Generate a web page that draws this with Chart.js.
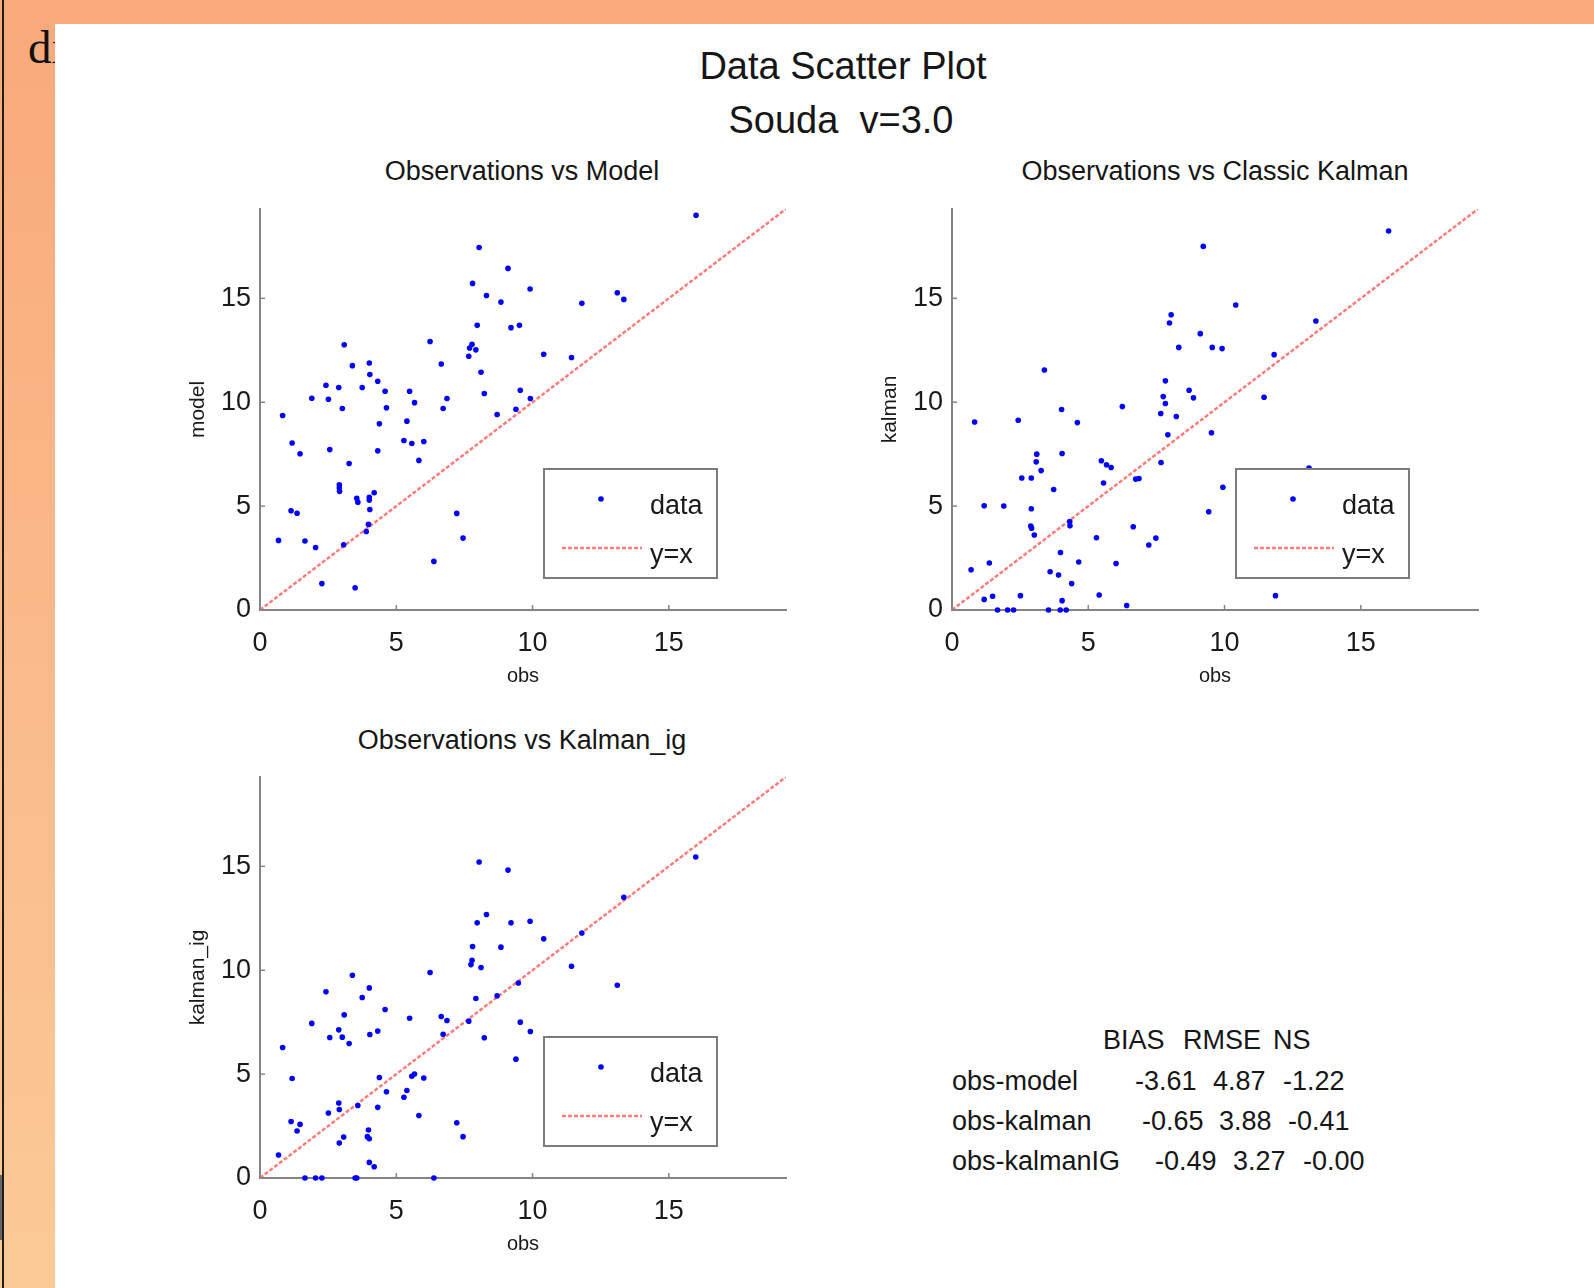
<!DOCTYPE html>
<html lang="en">
<head>
<meta charset="UTF-8">
<title>Data Scatter Plot - Souda v=3.0</title>
<style>
  html, body { margin: 0; padding: 0; }
  body { width: 1594px; height: 1288px; position: relative; overflow: hidden;
         background: linear-gradient(to bottom, #f9a97c 0%, #fbbd8c 60%, #fbca97 100%); }
  .edge { position: absolute; left: 2px; top: 0; width: 2px; height: 1288px; background: #1e1e1e; }
  .edge2 { position: absolute; left: 0; top: 1175px; width: 2px; height: 65px; background: #666; }
  .under { position: absolute; left: 28px; top: 24px; font: 47px/1 "Liberation Serif", "Times New Roman", serif; color: #111; }
  #panel { position: absolute; left: 55px; top: 24px; right: 0; bottom: 0; background: #fff; }
  .t { position: absolute; font-family: "Liberation Sans", Arial, sans-serif; line-height: 1; white-space: pre; color: #161616; }
  .c { transform: translateX(-50%); }
  canvas { position: absolute; }
</style>
</head>
<body>
<div class="edge"></div>
<div class="edge2"></div>
<div class="under">di</div>
<div id="panel"></div>

<div class="t c" style="left:843px; top:47px; font-size:38px;">Data Scatter Plot</div>
<div class="t c" style="left:841px; top:101px; font-size:38px;">Souda  v=3.0</div>

<div class="t c" style="left:522px; top:158px; font-size:27px;">Observations vs Model</div>
<div class="t c" style="left:1215px; top:158px; font-size:27px;">Observations vs Classic Kalman</div>
<div class="t c" style="left:522px; top:727px; font-size:27px;">Observations vs Kalman_ig</div>

<div id="stats"></div>

<canvas id="c1" width="620" height="489" style="left:186px; top:199px;"></canvas>
<canvas id="c2" width="620" height="489" style="left:878px; top:199px;"></canvas>
<canvas id="c3" width="620" height="489" style="left:186px; top:767px;"></canvas>

<script src="https://cdn.jsdelivr.net/npm/chart.js"></script>
<script>
  // axis range shared by all three panels (xlim = ylim)
  const axisMax = 19.3;
  const tickStep = 5;

  // [obs, model]
  const modelPts = [[16.0,19.0],[8.04,17.45],[9.10,16.44],[7.80,15.72],[9.91,15.45],[8.31,15.14],[8.84,14.82],
    [13.11,15.27],[13.35,14.95],[11.81,14.76],[7.97,13.70],[9.21,13.59],[9.52,13.70],[6.24,12.92],[3.09,12.77],
    [7.78,12.79],[7.69,12.61],[7.92,12.52],[7.66,12.21],[10.41,12.31],[11.43,12.15],[6.65,11.84],[4.01,11.89],
    [3.39,11.76],[8.11,11.44],[4.03,11.33],[4.32,11.01],[2.42,10.82],[2.89,10.71],[3.75,10.71],[4.59,10.53],
    [5.49,10.53],[9.55,10.58],[1.90,10.19],[2.51,10.14],[5.67,9.98],[6.86,10.18],[8.23,10.42],[9.92,10.18],
    [3.02,9.70],[4.64,9.73],[6.72,9.70],[9.39,9.66],[0.83,9.36],[5.39,9.09],[4.38,8.96],[8.70,9.41],[5.28,8.16],
    [5.57,8.01],[6.01,8.11],[1.18,8.04],[1.47,7.52],[2.56,7.72],[4.32,7.66],[5.83,7.20],[3.27,7.05],[2.91,6.03],
    [2.91,5.87],[2.92,5.71],[3.55,5.38],[3.59,5.19],[4.01,5.43],[4.01,5.29],[4.19,5.64],[4.03,4.84],[1.14,4.78],
    [1.36,4.66],[7.22,4.65],[3.98,4.12],[3.90,3.78],[0.68,3.35],[1.65,3.32],[2.04,3.01],[3.07,3.14],[7.45,3.46],
    [6.38,2.34],[2.27,1.27],[3.49,1.07]];

  // [obs, classic kalman]
  const kalmanPts = [[16.02,18.24],[9.22,17.50],[10.41,14.68],[8.04,14.21],[7.98,13.81],[13.35,13.91],[9.11,13.30],
    [8.32,12.64],[9.55,12.64],[9.91,12.58],[11.82,12.29],[3.39,11.55],[7.83,11.03],[8.70,10.58],[8.86,10.21],
    [7.75,10.27],[7.83,9.94],[11.45,10.24],[6.25,9.79],[4.02,9.65],[7.66,9.46],[8.23,9.31],[0.83,9.05],[2.43,9.13],
    [4.60,9.02],[7.92,8.43],[9.52,8.53],[3.11,7.50],[4.04,7.53],[3.09,7.13],[3.27,6.71],[5.48,7.18],[5.67,6.99],
    [5.84,6.86],[7.67,7.10],[13.10,6.83],[2.56,6.35],[2.91,6.35],[6.74,6.30],[6.86,6.33],[5.56,6.11],[3.73,5.80],
    [9.94,5.91],[1.18,5.02],[1.90,5.00],[2.91,4.87],[9.42,4.73],[4.32,4.26],[2.89,4.04],[2.92,3.94],[4.33,4.05],
    [6.65,4.01],[3.02,3.61],[5.30,3.48],[7.48,3.46],[7.22,3.13],[3.98,2.77],[0.70,1.94],[1.37,2.26],[4.65,2.31],
    [6.02,2.24],[3.60,1.84],[3.91,1.68],[4.39,1.27],[1.18,0.51],[1.49,0.66],[2.51,0.69],[5.40,0.72],[4.04,0.45],
    [6.41,0.22],[11.87,0.69],[1.67,0],[2.04,0],[2.26,0],[3.54,0],[3.97,0],[4.19,0]];

  // [obs, kalman_ig]
  const kalmanIgPts = [[15.99,15.45],[8.04,15.21],[9.10,14.82],[13.35,13.51],[8.31,12.68],[7.97,12.28],[9.21,12.28],
    [9.91,12.36],[11.81,11.79],[10.41,11.51],[7.80,11.14],[8.84,11.11],[7.78,10.48],[7.74,10.27],[8.11,10.13],
    [11.43,10.19],[6.24,9.89],[3.39,9.76],[4.01,9.15],[2.42,8.96],[3.75,8.69],[9.48,9.38],[13.11,9.28],[7.92,8.64],
    [8.70,8.77],[4.59,8.11],[3.09,7.85],[1.90,7.44],[5.49,7.69],[6.65,7.77],[6.86,7.58],[7.66,7.55],[9.55,7.50],
    [2.89,7.13],[4.32,7.07],[2.56,6.76],[3.02,6.78],[4.03,6.91],[3.27,6.47],[6.72,6.92],[9.92,7.05],[8.23,6.75],
    [0.83,6.28],[9.39,5.72],[1.18,4.79],[4.38,4.84],[5.57,4.90],[5.67,5.00],[6.01,4.81],[4.64,4.15],[5.39,4.21],
    [5.28,3.89],[2.89,3.61],[2.91,3.30],[3.59,3.49],[2.51,3.13],[4.32,3.40],[5.83,3.01],[1.14,2.72],[1.47,2.58],
    [1.36,2.26],[7.22,2.66],[7.45,1.99],[3.98,2.31],[3.94,1.99],[4.01,1.89],[3.07,1.97],[2.91,1.68],[0.68,1.11],
    [4.01,0.75],[4.19,0.54],[1.65,0],[2.04,0],[2.27,0],[3.49,0],[3.55,0],[6.38,0]];

  // error table
  const statHead = ['BIAS', 'RMSE', 'NS'];
  const statNames = ['obs-model', 'obs-kalman', 'obs-kalmanIG'];
  const statBias = ['-3.61', '-0.65', '-0.49'];
  const statRmse = ['4.87', '3.88', '3.27'];
  const statNs = ['-1.22', '-0.41', '-0.00'];

  const FONT = '"Liberation Sans", Arial, sans-serif';
  const AXIS = '#858585';
  const INK = '#1a1a1a';

  // table layout (MATLAB padded the rows with spaces, so columns drift a little)
  const headX = [1103, 1183, 1273];
  const rowX = [[952, 1135, 1213, 1283], [952, 1142, 1219, 1288], [952, 1155, 1233, 1303]];
  const stats = document.getElementById('stats');
  function put(txt, left, baseline) {
    const d = document.createElement('div');
    d.className = 't';
    d.style.fontSize = '27px';
    d.style.left = left + 'px';
    d.style.top = (baseline - 23) + 'px';
    d.textContent = txt;
    stats.appendChild(d);
  }
  statHead.forEach((h, i) => put(h, headX[i], 1050));
  statNames.forEach((n, r) => {
    const base = 1091 + r * 40;
    [n, statBias[r], statRmse[r], statNs[r]].forEach((s, i) => put(s, rowX[r][i], base));
  });

  // inward tick marks + boxed legend, drawn like the matlab figure
  const matlabBits = {
    id: 'matlabBits',
    afterDatasetsDraw(chart) {
      const { ctx, chartArea: a, scales: { x, y } } = chart;
      ctx.save();
      ctx.strokeStyle = AXIS;
      ctx.lineWidth = 1.5;
      x.ticks.forEach(t => {
        const px = x.getPixelForValue(t.value);
        ctx.beginPath(); ctx.moveTo(px, a.bottom); ctx.lineTo(px, a.bottom - 5); ctx.stroke();
      });
      y.ticks.forEach(t => {
        const py = y.getPixelForValue(t.value);
        ctx.beginPath(); ctx.moveTo(a.left, py); ctx.lineTo(a.left + 5, py); ctx.stroke();
      });

      // legend box
      const bx = a.left + 284, by = a.bottom - 141, bw = 173, bh = 109;
      ctx.fillStyle = '#fff';
      ctx.fillRect(bx, by, bw, bh);
      ctx.strokeStyle = '#7c7c7c';
      ctx.lineWidth = 2;
      ctx.strokeRect(bx, by, bw, bh);

      const [pts, line] = chart.data.datasets;
      ctx.fillStyle = pts.backgroundColor;
      ctx.beginPath(); ctx.arc(bx + 57, by + 30, pts.pointRadius, 0, Math.PI * 2); ctx.fill();

      ctx.strokeStyle = line.borderColor;
      ctx.lineWidth = line.borderWidth;
      ctx.setLineDash(line.borderDash);
      ctx.beginPath(); ctx.moveTo(bx + 18, by + 79); ctx.lineTo(bx + 98, by + 79); ctx.stroke();
      ctx.setLineDash([]);

      ctx.fillStyle = INK;
      ctx.font = '27px ' + FONT;
      ctx.textBaseline = 'alphabetic';
      ctx.textAlign = 'left';
      ctx.fillText(pts.label, bx + 106, by + 45);
      ctx.fillText(line.label, bx + 106, by + 94);
      ctx.restore();
    }
  };

  function makePanel(id, pts, yName) {
    new Chart(document.getElementById(id), {
      type: 'scatter',
      data: {
        datasets: [
          {
            label: 'data',
            data: pts.map(p => ({ x: p[0], y: p[1] })),
            backgroundColor: '#0000ff',
            borderWidth: 0,
            pointRadius: 2.8,
            clip: false
          },
          {
            label: 'y=x',
            data: [{ x: 0, y: 0 }, { x: axisMax, y: axisMax }],
            showLine: true,
            borderColor: 'rgba(255, 80, 80, 0.75)',
            borderWidth: 2.5,
            borderDash: [4, 2],
            pointRadius: 0
          }
        ]
      },
      options: {
        responsive: false,
        animation: false,
        layout: { padding: { top: 10, right: 20, left: 0, bottom: 0 } },
        plugins: { legend: { display: false }, tooltip: { enabled: false } },
        scales: {
          x: {
            type: 'linear', position: 'bottom', min: 0, max: axisMax,
            afterFit: s => { s.height = 78; s.paddingLeft = 0; s.paddingRight = 0; },
            grid: { display: false, drawTicks: false },
            border: { display: true, color: AXIS, width: 2 },
            ticks: { stepSize: tickStep, includeBounds: false, padding: 17, maxRotation: 0, autoSkip: false,
                     color: INK, font: { family: FONT, size: 27 } },
            title: { display: true, text: 'obs', color: INK, padding: 0, font: { family: FONT, size: 20 } }
          },
          y: {
            type: 'linear', position: 'left', min: 0, max: axisMax,
            afterFit: s => { s.width = 74; s.paddingTop = 0; s.paddingBottom = 0; },
            grid: { display: false, drawTicks: false },
            border: { display: true, color: AXIS, width: 2 },
            ticks: { stepSize: tickStep, includeBounds: false, padding: 9, autoSkip: false,
                     color: INK, font: { family: FONT, size: 27 } },
            title: { display: true, text: yName, color: INK, padding: 0, font: { family: FONT, size: 21 } }
          }
        }
      },
      plugins: [matlabBits]
    });
  }

  makePanel('c1', modelPts, 'model');
  makePanel('c2', kalmanPts, 'kalman');
  makePanel('c3', kalmanIgPts, 'kalman_ig');
</script>
</body>
</html>
